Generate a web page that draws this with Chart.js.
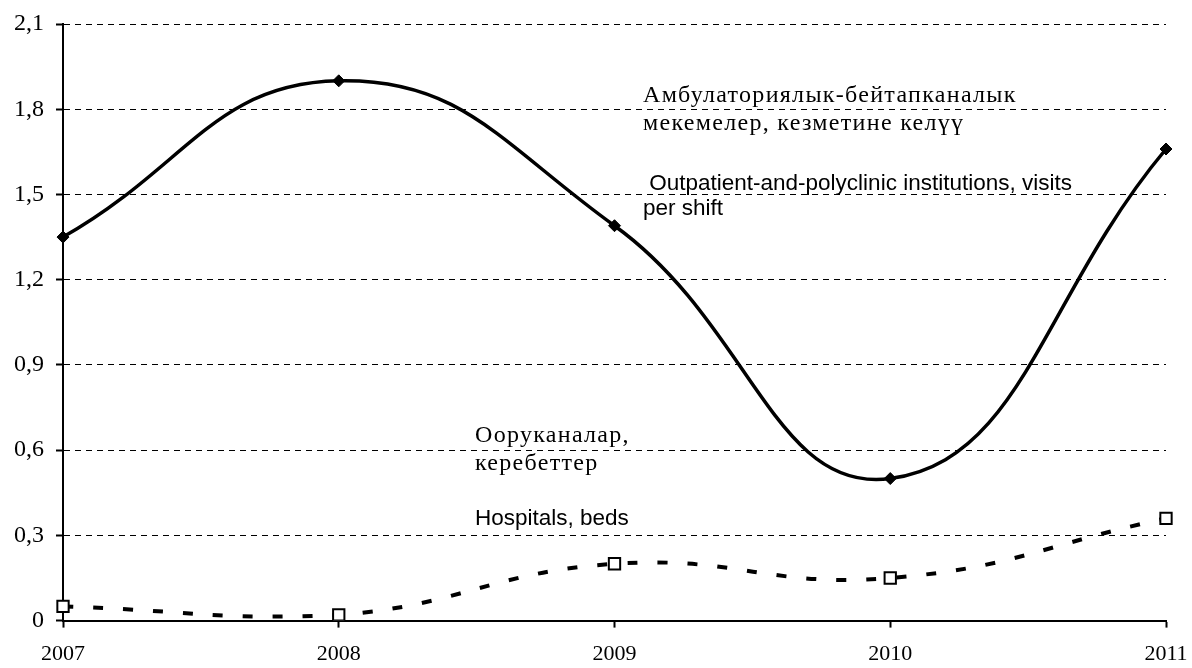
<!DOCTYPE html>
<html>
<head>
<meta charset="utf-8">
<script src="https://cdn.jsdelivr.net/npm/chart.js@4/dist/chart.umd.min.js"></script>
<style>
  html, body { margin: 0; padding: 0; background: #fff; }
  #wrap { width: 1192px; height: 668px; }
</style>
</head>
<body>
<div id="wrap"><canvas id="c" width="1192" height="668"></canvas></div>
<script>
const years = ['2007', '2008', '2009', '2010', '2011'];
const outpatientVisits = [1.35, 1.90, 1.39, 0.50, 1.66];
const hospitalBeds = [0.05, 0.02, 0.20, 0.15, 0.36];
const yTickValues = [0, 0.3, 0.6, 0.9, 1.2, 1.5, 1.8, 2.1];
const outpatientLabelKy = ['Амбулаториялык-бейтапканалык', 'мекемелер, кезметине келүү'];
const outpatientLabelEn = [' Outpatient-and-polyclinic institutions, visits', 'per shift'];
const hospitalLabelKy = ['Ооруканалар,', 'керебеттер'];
const hospitalLabelEn = ['Hospitals, beds'];

const SERIF = '"Liberation Serif", "Times New Roman", serif';
const SANS = '"Liberation Sans", Arial, sans-serif';

const annotationPlugin = {
  id: 'seriesNotes',
  afterDatasetsDraw(chart) {
    const ctx = chart.ctx;
    ctx.save();
    ctx.fillStyle = '#000';
    ctx.textBaseline = 'alphabetic';
    ctx.textAlign = 'left';
    const draw = (lines, font, spacing, x, baselines) => {
      ctx.font = font;
      if ('letterSpacing' in ctx) ctx.letterSpacing = spacing;
      lines.forEach((t, i) => ctx.fillText(t, x, baselines[i]));
    };
    draw(outpatientLabelKy, '24px ' + SERIF, '1.3px', 643, [102, 130]);
    draw(outpatientLabelEn, '22.5px ' + SANS, '0px', 643, [190, 215]);
    draw(hospitalLabelKy, '24px ' + SERIF, '1.3px', 475, [442, 470]);
    draw(hospitalLabelEn, '22.5px ' + SANS, '0px', 475, [525]);
    ctx.restore();
  }
};

new Chart(document.getElementById('c'), {
  type: 'line',
  data: {
    labels: years,
    datasets: [
      {
        label: 'Outpatient-and-polyclinic institutions, visits per shift',
        data: outpatientVisits,
        borderColor: '#000',
        borderWidth: 3.5,
        backgroundColor: '#000',
        pointStyle: 'rectRot',
        pointRadius: 6,
        pointBorderWidth: 1,
        pointBackgroundColor: '#000',
        pointBorderColor: '#000',
        tension: 0.45,
        fill: false
      },
      {
        label: 'Hospitals, beds',
        data: hospitalBeds,
        borderColor: '#000',
        borderWidth: 4,
        borderDash: [10, 20],
        borderCapStyle: 'butt',
        pointStyle: 'rect',
        pointRadius: 8,
        pointBorderWidth: 2,
        pointBackgroundColor: '#fff',
        pointBorderColor: '#000',
        tension: 0.45,
        fill: false
      }
    ]
  },
  options: {
    responsive: false,
    animation: false,
    devicePixelRatio: 1,
    layout: { padding: { left: 2, right: 0, top: 24, bottom: -12 } },
    plugins: {
      legend: { display: false },
      tooltip: { enabled: false }
    },
    scales: {
      x: {
        offset: false,
        afterFit(scale) { scale.paddingRight = 26; },
        grid: {
          display: true,
          drawOnChartArea: false,
          drawTicks: true,
          tickLength: 7,
          tickWidth: 2,
          tickColor: '#000'
        },
        border: { display: true, color: '#000', width: 2 },
        ticks: {
          color: '#000',
          font: { family: SERIF, size: 22 },
          padding: 13,
          maxRotation: 0,
          autoSkip: false
        }
      },
      y: {
        min: 0,
        max: 2.1,
        afterFit(scale) { scale.paddingTop = 0; },
        afterBuildTicks(scale) {
          scale.ticks = yTickValues.map(v => ({ value: v }));
        },
        grid: {
          display: true,
          drawOnChartArea: true,
          drawTicks: true,
          tickLength: 7,
          tickWidth: 2,
          tickColor: '#000',
          color: '#000',
          lineWidth: 1
        },
        border: { display: true, color: '#000', width: 2, dash: [6, 5] },
        ticks: {
          color: '#000',
          font: { family: SERIF, size: 24 },
          padding: 12,
          callback: (v) => (v === 0 ? '0' : Number(v).toFixed(1).replace('.', ','))
        }
      }
    }
  },
  plugins: [annotationPlugin]
});
</script>
</body>
</html>
